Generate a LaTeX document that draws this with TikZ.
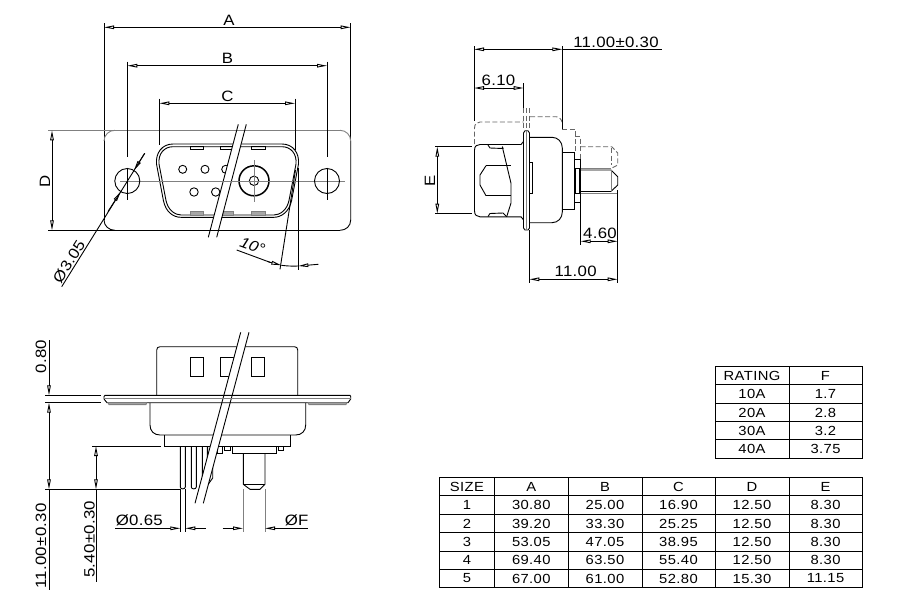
\documentclass[tikz,border=0pt]{standalone}
\usepackage{fontspec}
\setmainfont{Liberation Sans}[FakeStretch=1.12]
\usetikzlibrary{arrows.meta}
\tikzstyle{outline}=[black,line width=0.9pt]
\tikzstyle{heavy}=[black,line width=1.5pt]
\tikzstyle{centre}=[black!50,line width=0.9pt]
\tikzstyle{hidden}=[black!60,line width=0.9pt,dash pattern=on 5pt off 2.5pt]
\tikzstyle{label}=[inner sep=0pt,font=\fontsize{15}{15}\selectfont\addfontfeature{LetterSpace=2}]
\tikzstyle{cell}=[inner sep=0pt,font=\fontsize{13.2}{13.2}\selectfont\addfontfeature{LetterSpace=3}]

\begin{document}
\begin{tikzpicture}[x=1pt,y=-1pt,>={Triangle[open,length=10pt,width=3.6pt]}]
  \useasboundingbox (0,0) rectangle (900,600);
  % front view
  \begin{scope}
    \draw[outline] (48,230.3) -- (340,230.3);
    \draw[outline] (104,220) .. controls (104,226) and (109,230.3) .. (115,230.3);
    \draw[outline] (340,230.3) .. controls (346,230.3) and (350.7,226) .. (350.7,220) -- (350.7,141);
    \draw[outline] (104,23) -- (104,220);
    \draw[outline] (350.7,23) -- (350.7,141);
    \draw[centre] (104,141) .. controls (104,135) and (109,130.3) .. (115,130.3);
    \draw[centre] (340,130.3) .. controls (346,130.3) and (350.7,135) .. (350.7,141);
    \draw[centre] (48,130.3) -- (340,130.3);
    \draw[outline] (173,144) -- (282,144) .. controls (293,144) and (299.5,153) .. (298.5,164) -- (291.5,201) .. controls (289,212) and (281,217.3) .. (274,217.3) -- (181,217.3) .. controls (173,217.3) and (166,212) .. (163.5,201) -- (156.5,164) .. controls (155.5,153) and (162,144) .. (173,144) -- cycle;
    \draw[outline] (173,146.7) -- (282,146.7) .. controls (291,146.7) and (297,154) .. (296,164) -- (289,200.5) .. controls (287,210) and (280,215) .. (274,215) -- (181,215) .. controls (175,215) and (168,210) .. (166,200.5) -- (159,164) .. controls (158,154) and (164,146.7) .. (173,146.7) -- cycle;
    \draw[outline] (190,146.7) rectangle (203.3,149) (220.3,146.7) rectangle (233,149) (251,146.7) rectangle (265,149);
    \draw[centre,fill=black!35] (190,211.5) rectangle (203.3,215) (220.3,211.5) rectangle (233,215) (251,211.5) rectangle (265,215);
    \draw[outline] (182.7,169.3) circle (4pt) (205,169.3) circle (4pt) (225.7,169.3) circle (4pt);
    \draw[outline] (194,192) circle (4.2pt) (215.7,192) circle (4.2pt);
    \draw[heavy] (254,180.8) circle (15pt);
    \draw[outline] (254,180.8) circle (4.7pt);
    \fill[white] (234.1,140) -- (242.4,140) -- (220.3,222) -- (212.3,222) -- cycle;
    \draw[outline] (238.3,124.3) -- (208.3,237.3);
    \draw[outline] (246.3,124.3) -- (216.7,237.3);
    \draw[centre] (120,181) -- (345,181);
    \draw[centre] (254,160) -- (254,201.7);
    \draw[outline] (127.3,181) circle (12.5pt) (327,181) circle (12.5pt);
    \draw[outline] (127.3,61.7) -- (127.3,157) (127.3,167.5) -- (127.3,200);
    \draw[outline] (327,61.7) -- (327,157) (327,167.5) -- (327,200);
    \draw[outline] (159.3,98.7) -- (159.3,145);
    \draw[outline] (295,98.7) -- (295,150);
    \draw[<->,outline] (104,27.3) -- (350.7,27.3);
    \draw[<->,outline] (127.3,65.7) -- (327,65.7);
    \draw[<->,outline] (159.3,103.3) -- (295,103.3);
    \draw[<->,outline] (52,130.3) -- (52,230.3);
    \node[label] (dimA) at (229,20) {A};
    \node[label] (dimB) at (227.5,58) {B};
    \node[label] (dimC) at (227.5,96) {C};
    \node[label,rotate=90] (dimD) at (45,181) {D};
    \draw[outline] (144.7,153.3) -- (61.7,286.7);
    \draw[->,outline] (144.7,153.3) -- (133.9,170.4);
    \draw[->,outline] (108,211.5) -- (120.7,191.6);
    \node[label,rotate=58] (holesize) at (69,261.5) {Ø3.05};
    \draw[outline] (298.3,168) -- (298.3,270);
    \draw[outline] (295.5,170) -- (280,269.3);
    \draw[outline] (236.7,250) -- (270,262.3);
    \draw[->,outline] (268,261.7) -- (281.3,265.3);
    \draw[outline] (281.3,265.3) .. controls (287,266) and (292,266.3) .. (298.3,266);
    \draw[->,outline] (318.3,264.3) -- (298.3,266);
    \node[label,rotate=-20,font=\fontsize{15}{15}\selectfont\itshape] (angle) at (252.5,246) {10°};
  \end{scope}
  % side view
  \begin{scope}
    \draw[outline] (523.5,133) -- (525,130.7) -- (528,130.7) -- (529.5,133) -- (529.5,228) -- (528,230) -- (525,230) -- (523.5,228) -- cycle;
    \draw[centre] (526,131) -- (526,230);
    \draw[outline] (474.5,150) .. controls (474.5,146) and (477,144.5) .. (480,144.5) -- (521,144.5) -- (523.5,141.5);
    \draw[outline] (474.5,150) -- (474.5,211) .. controls (474.5,215) and (477,216.8) .. (480,216.8) -- (521,216.8) -- (523.5,219.8);
    \draw[outline] (488,145) -- (490,148) -- (503,148.5) -- (502.3,146.7);
    \draw[outline] (488,216.5) -- (490,213.5) -- (503,213) -- (506.7,216.7);
    \draw[outline] (502.3,146.7) -- (511,183.3) -- (511,203) -- (506.7,216.7);
    \draw[outline] (480,175) -- (486,165.7);
    \draw[outline] (480,175) -- (480,185) -- (486,195.7);
    \draw[heavy] (486,165.7) -- (511,165.7) (486,195.7) -- (511,195.7);
    \draw[outline] (530,137.3) -- (552,137.3) .. controls (558,137.3) and (562.3,142) .. (562.3,148) -- (562.3,212) .. controls (562.3,218) and (558,222.7) .. (552,222.7) -- (530,222.7);
    \draw[outline] (529.5,162) rectangle (532.5,193);
    \draw[outline] (562.3,152.3) -- (574.3,152.3) -- (574.3,209.3) -- (562.3,209.3);
    \draw[outline] (574.3,159.3) -- (580.5,159.3) -- (580.5,202.3) -- (574.3,202.3);
    \draw[outline] (575,168.3) rectangle (579,193.3);
    \draw[centre] (580.5,168.3) -- (611,168.3);
    \draw[outline] (580.5,170) -- (611,170) -- (617.7,176.7) -- (617.7,185) -- (611,191.5) -- (580.5,191.5);
    \draw[centre] (580.5,193.3) -- (617.7,193.3);
    \draw[centre] (611,170) -- (611,191.5);
    \draw[hidden] (474.5,144) -- (474.5,128) .. controls (474.5,124) and (477,122) .. (480,122) -- (523.7,122);
    \draw[hidden] (523.7,108) -- (523.7,130) (526.7,108) -- (526.7,130) (529.3,108) -- (529.3,130);
    \draw[hidden] (530,116.7) -- (556,116.7) .. controls (559.5,116.7) and (562.3,120) .. (562.3,124);
    \draw[hidden] (562.3,129) -- (575,129) -- (575,152);
    \draw[hidden] (575,136.7) -- (580.7,136.7) -- (580.7,159);
    \draw[hidden] (580.7,146.7) -- (611.7,146.7) -- (617.7,153) -- (617.7,165) -- (612,168);
    \draw[hidden] (611,148) -- (611,165);
    \draw[outline] (474,46) -- (474,121);
    \draw[outline] (562.3,46) -- (562.3,129);
    \draw[outline] (523.7,83.3) -- (523.7,108);
    \draw[<->,outline] (474,49.3) -- (562.3,49.3);
    \draw[outline] (562.3,49.3) -- (662.3,49.3);
    \node[label] (totalwidth) at (616,42) {11.00±0.30};
    \draw[<->,outline] (474,88) -- (523.7,88);
    \node[label] (frontwidth) at (498.5,80.5) {6.10};
    \draw[outline] (435,146.7) -- (472,146.7) (435,213.7) -- (472,213.7);
    \draw[<->,outline] (437.3,146.7) -- (437.3,213.7);
    \node[label,rotate=90] (dimE) at (430,181) {E};
    \draw[outline] (580.7,202.3) -- (580.7,245);
    \draw[outline] (617.7,190) -- (617.7,283);
    \draw[outline] (529.3,230) -- (529.3,283);
    \draw[<->,outline] (580.7,241.3) -- (617.7,241.3);
    \node[label] (pinlength) at (600,233) {4.60};
    \draw[<->,outline] (529.3,279.3) -- (617.7,279.3);
    \node[label] (backwidth) at (575.7,271) {11.00};
  \end{scope}
  % bottom view
  \begin{scope}
    \draw[outline] (156.7,395) -- (156.7,350) .. controls (156.7,348) and (158,346.7) .. (160,346.7) -- (294.5,346.7) .. controls (296.5,346.7) and (297.7,348) .. (297.7,350) -- (297.7,395);
    \draw[outline] (190.3,357.7) rectangle (203.7,376.7) (220.7,357.7) rectangle (234,376.7) (251,357.7) rectangle (264.3,376.7);
    \draw[outline] (150,403) -- (150,425) .. controls (150,431) and (154,435) .. (160,435) -- (295.7,435) .. controls (301.7,435) and (305.7,431) .. (305.7,425) -- (305.7,403);
    \draw[outline] (164.3,435) -- (164.3,446.7) -- (290.7,446.7) -- (290.7,435);
    \draw[outline] (180.3,446.7) -- (180.3,487) .. controls (180.3,489.5) and (185.3,489.5) .. (185.3,487) -- (185.3,446.7);
    \draw[outline] (191.3,446.7) -- (191.3,487) .. controls (191.3,489.5) and (196.3,489.5) .. (196.3,487) -- (196.3,446.7);
    \draw[outline] (202.3,446.7) -- (202.3,487) .. controls (202.3,489.5) and (207.3,489.5) .. (207.3,487) -- (207.3,446.7);
    \draw[outline] (207.7,446.7) -- (207.7,485) -- (212.7,478) -- (212.7,446.7);
    \draw[outline] (217.3,446.7) rectangle (222.7,453.3) (224.3,446.7) rectangle (230,450.7);
    \draw[outline] (232,446.7) rectangle (276.7,453.3) (278.3,446.7) rectangle (283.3,450.7);
    \draw[outline] (243.3,453.3) -- (243.3,484.3) -- (250,489.3) -- (260,489.3) -- (265,484.3) -- (265,453.3);
    \draw[outline] (243.3,484) -- (265,484);
    \fill[white] (238.6,340) -- (246.9,340) -- (205.5,495) -- (197.2,495) -- cycle;
    \draw[outline] (240.7,332.3) -- (195,503.3);
    \draw[outline] (249,332.3) -- (203.3,503.3);
    \draw[outline] (104,396.5) -- (105,395.3) -- (350,395.3) -- (350.7,396.5) -- (350.7,399) -- (348,402.7) -- (107,402.7) -- (104,399) -- cycle;
    \draw[centre] (104,398.3) -- (350.7,398.3);
    \draw[centre,fill=black!35] (108,402.7) -- (146.7,402.7) -- (146,404.6) -- (109,404.6) -- cycle;
    \draw[centre,fill=black!35] (308,402.7) -- (346.7,402.7) -- (346,404.6) -- (309,404.6) -- cycle;
    \draw[outline] (45,395.3) -- (101,395.3) (45,402.7) -- (101,402.7);
    \draw[outline] (49,340) -- (49,382);
    \draw[->,outline] (49,382) -- (49,395.3);
    \draw[->,outline] (49,415) -- (49,402.7);
    \draw[->,outline] (49,476) -- (49,489.3);
    \draw[outline] (49,415) -- (49,476) (49,489.3) -- (49,590);
    \draw[outline] (45,489.3) -- (180,489.3);
    \node[label,rotate=90] (flangethick) at (41,356.5) {0.80};
    \node[label,rotate=90] (pinreach) at (41,546) {11.00±0.30};
    \draw[outline] (92,446) -- (160.7,446);
    \draw[<->,outline] (96,446) -- (96,489.3);
    \draw[outline] (96,489.3) -- (96,581.7);
    \node[label,rotate=90] (pinfree) at (89.5,539.3) {5.40±0.30};
    \draw[outline] (180.3,489) -- (180.3,532.3) (185.3,489) -- (185.3,532.3);
    \draw[->,outline] (115,528.3) -- (180.3,528.3);
    \draw[->,outline] (205.7,528.3) -- (185.3,528.3);
    \node[label] (pinsize) at (139.3,520.5) {Ø0.65};
    \draw[centre] (243,489) -- (243,532.3) (265,489) -- (265,532.3);
    \draw[->,outline] (222.7,528.3) -- (243,528.3);
    \draw[->,outline] (307.7,528.3) -- (265,528.3);
    \node[label] (dimF) at (296.7,520.5) {ØF};
  \end{scope}
  % rating table
  \begin{scope}
    \draw[outline] (715.3,366) rectangle (862.7,458);
    \draw[outline] (789,366) -- (789,458);
    \draw[outline] (715.3,384.3) -- (862.7,384.3) (715.3,403) -- (862.7,403) (715.3,421.3) -- (862.7,421.3) (715.3,439.7) -- (862.7,439.7);
    \node[cell] (rate0) at (752,375.5) {RATING};
    \node[cell] (flim0) at (825.5,375.5) {F};
    \node[cell] (rate1) at (752,394) {10A};
    \node[cell] (flim1) at (825.5,394) {1.7};
    \node[cell] (rate2) at (752,412.5) {20A};
    \node[cell] (flim2) at (825.5,412.5) {2.8};
    \node[cell] (rate3) at (752,431) {30A};
    \node[cell] (flim3) at (825.5,431) {3.2};
    \node[cell] (rate4) at (752,449) {40A};
    \node[cell] (flim4) at (825.5,449) {3.75};
  \end{scope}
  % size table
  \begin{scope}
    \draw[outline] (439.3,477) rectangle (862.7,587.3);
    \draw[outline] (494.3,477) -- (494.3,587.3) (568.3,477) -- (568.3,587.3) (642,477) -- (642,587.3) (715.3,477) -- (715.3,587.3) (789,477) -- (789,587.3);
    \draw[outline] (439.3,495.3) -- (862.7,495.3) (439.3,514) -- (862.7,514) (439.3,532.3) -- (862.7,532.3) (439.3,551) -- (862.7,551) (439.3,569.3) -- (862.7,569.3);
    \node[cell] (size0) at (467,486.5) {SIZE};
    \node[cell] (a0) at (531.3,486.5) {A};
    \node[cell] (b0) at (605,486.5) {B};
    \node[cell] (c0) at (678.5,486.5) {C};
    \node[cell] (d0) at (752,486.5) {D};
    \node[cell] (e0) at (825.5,486.5) {E};
    \node[cell] (size1) at (467,505) {1};
    \node[cell] (a1) at (531.3,505) {30.80};
    \node[cell] (b1) at (605,505) {25.00};
    \node[cell] (c1) at (678.5,505) {16.90};
    \node[cell] (d1) at (752,505) {12.50};
    \node[cell] (e1) at (825.5,505) {8.30};
    \node[cell] (size2) at (467,523.5) {2};
    \node[cell] (a2) at (531.3,523.5) {39.20};
    \node[cell] (b2) at (605,523.5) {33.30};
    \node[cell] (c2) at (678.5,523.5) {25.25};
    \node[cell] (d2) at (752,523.5) {12.50};
    \node[cell] (e2) at (825.5,523.5) {8.30};
    \node[cell] (size3) at (467,541.5) {3};
    \node[cell] (a3) at (531.3,541.5) {53.05};
    \node[cell] (b3) at (605,541.5) {47.05};
    \node[cell] (c3) at (678.5,541.5) {38.95};
    \node[cell] (d3) at (752,541.5) {12.50};
    \node[cell] (e3) at (825.5,541.5) {8.30};
    \node[cell] (size4) at (467,560) {4};
    \node[cell] (a4) at (531.3,560) {69.40};
    \node[cell] (b4) at (605,560) {63.50};
    \node[cell] (c4) at (678.5,560) {55.40};
    \node[cell] (d4) at (752,560) {12.50};
    \node[cell] (e4) at (825.5,560) {8.30};
    \node[cell] (size5) at (467,578.5) {5};
    \node[cell] (a5) at (531.3,578.5) {67.00};
    \node[cell] (b5) at (605,578.5) {61.00};
    \node[cell] (c5) at (678.5,578.5) {52.80};
    \node[cell] (d5) at (752,578.5) {15.30};
    \node[cell] (e5) at (825.5,578.5) {11.15};
  \end{scope}
\end{tikzpicture}
\end{document}
